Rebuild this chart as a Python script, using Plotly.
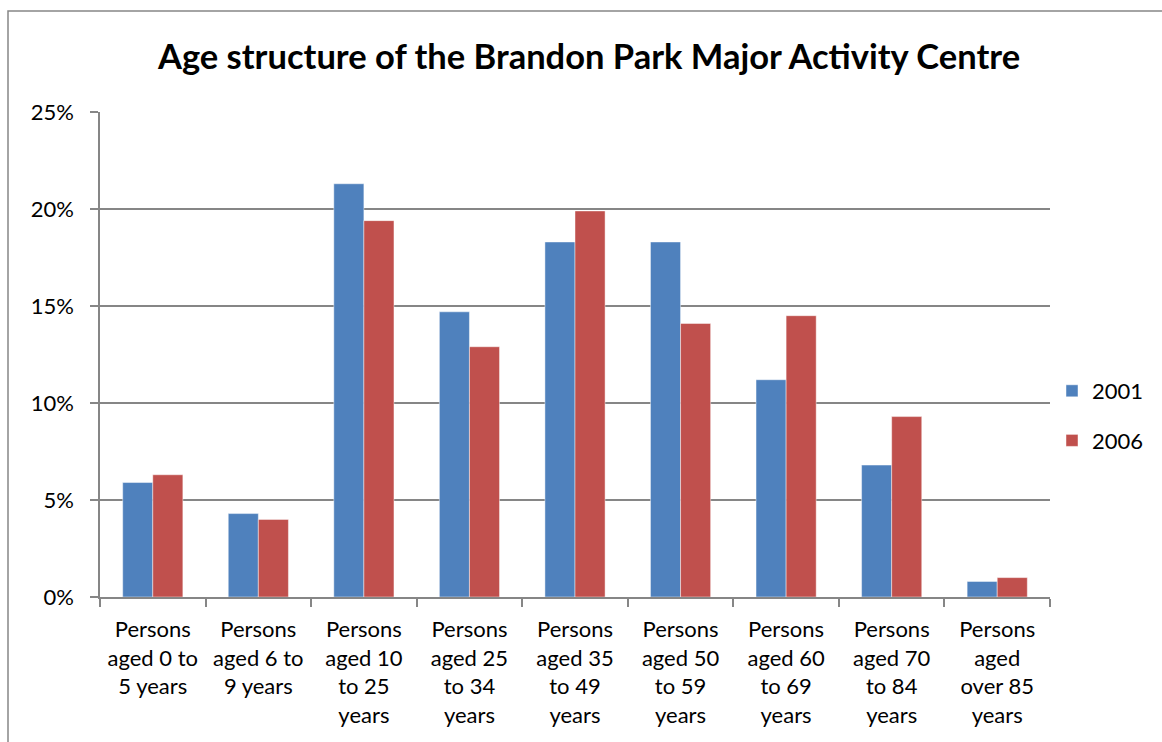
import plotly.graph_objects as go

# Age groups (x-axis categories), with line breaks as laid out under the bars
categories = [
    "Persons<br>aged 0 to<br>5 years",
    "Persons<br>aged 6 to<br>9 years",
    "Persons<br>aged 10<br>to 25<br>years",
    "Persons<br>aged 25<br>to 34<br>years",
    "Persons<br>aged 35<br>to 49<br>years",
    "Persons<br>aged 50<br>to 59<br>years",
    "Persons<br>aged 60<br>to 69<br>years",
    "Persons<br>aged 70<br>to 84<br>years",
    "Persons<br>aged<br>over 85<br>years",
]

# Share of population (%) per age group
share_2001 = [5.9, 4.3, 21.3, 14.7, 18.3, 18.3, 11.2, 6.8, 0.8]
share_2006 = [6.3, 4.0, 19.4, 12.9, 19.9, 14.1, 14.5, 9.3, 1.0]

y_ticks = [0, 5, 10, 15, 20, 25]
y_tick_labels = ["0%", "5%", "10%", "15%", "20%", "25%"]

FONT = "Lato, 'Open Sans', sans-serif"
GRID = "#868686"

fig = go.Figure()
fig.add_trace(go.Bar(
    name="2001", x=categories, y=share_2001,
    marker=dict(color="#4F81BD", line=dict(color="rgba(255,255,255,0.45)", width=1)),
    legendgroup="a",
))
fig.add_trace(go.Bar(
    name="2006", x=categories, y=share_2006,
    marker=dict(color="#C0504D", line=dict(color="rgba(255,255,255,0.45)", width=1)),
    legendgroup="b",
))

W, H = 1162, 742
L, R, T, B = 100, 112, 112, 145
pw, ph = W - L - R, H - T - B

def px_x(px):
    return (px - L) / pw

def px_y(py):
    return (H - B - py) / ph

fig.update_layout(
    width=W, height=H,
    margin=dict(l=L, r=R, t=T, b=B, autoexpand=False),
    paper_bgcolor="white", plot_bgcolor="white",
    font=dict(family=FONT, size=22, color="black"),
    barmode="group", bargap=0.43, bargroupgap=0,
    title=dict(
        text="<b>Age structure of the Brandon Park Major Activity Centre</b>",
        font=dict(family=FONT, size=34.5, color="black"),
        x=px_x(589), xref="paper", xanchor="center",
        y=1 - 57 / H, yref="container", yanchor="middle",
    ),
    legend=dict(
        x=px_x(1052), xanchor="left", y=px_y(416), yanchor="middle",
        font=dict(family=FONT, size=22), traceorder="grouped",
        tracegroupgap=18, bgcolor="rgba(0,0,0,0)",
    ),
    xaxis=dict(
        showline=True, linecolor=GRID, linewidth=1.5,
        ticks="outside", tickson="boundaries", ticklen=8, tickcolor=GRID, tickwidth=1.5,
        showgrid=False, tickangle=0, tickfont=dict(size=22),
        ticklabelstandoff=12,
    ),
    yaxis=dict(
        range=[0, 25], tickvals=y_ticks, ticktext=y_tick_labels,
        showline=True, linecolor=GRID, linewidth=1.5,
        showgrid=True, gridcolor=GRID, gridwidth=1.5,
        ticks="outside", ticklen=8, tickcolor=GRID, tickwidth=1.5,
        zeroline=False, tickfont=dict(size=22), ticklabelstandoff=12,
    ),
    shapes=[dict(
        type="rect", xref="paper", yref="paper",
        x0=px_x(8), x1=px_x(1175), y0=px_y(760), y1=px_y(11),
        line=dict(color=GRID, width=1.5), fillcolor="rgba(0,0,0,0)", layer="below",
    )],
)

fig.write_html("out.html")
